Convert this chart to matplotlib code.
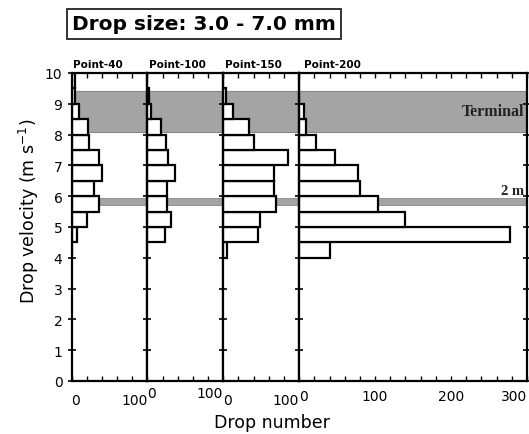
import matplotlib
matplotlib.use("Agg")
import matplotlib.pyplot as plt

# drop counts per 0.5 m/s velocity class, one list per sampling point
velocity_bins = [4.25, 4.75, 5.25, 5.75, 6.25, 6.75, 7.25, 7.75, 8.25, 8.75, 9.25, 9.75]
point_names = ["Point-40", "Point-100", "Point-150", "Point-200"]
counts_p40 = [0, 7, 21, 36, 30, 40, 36, 23, 22, 10, 5, 4]
counts_p100 = [0, 23, 31, 26, 26, 36, 27, 25, 18, 5, 2, 0]
counts_p150 = [5, 46, 49, 69, 67, 67, 85, 40, 34, 13, 4, 0]
counts_p200 = [40, 278, 140, 104, 80, 78, 47, 22, 9, 6, 0, 0]
all_counts = [counts_p40, counts_p100, counts_p150, counts_p200]

count_max = [100, 100, 100, 300]
count_ticks = [[0, 100], [0, 100], [0, 100], [0, 100, 200, 300]]
velocity_ticks = list(range(0, 11))

terminal_band = (8.1, 9.4)
height_band = (5.73, 5.95)

W, H = 529, 435
fig = plt.figure(figsize=(W / 100, H / 100), dpi=100)

left0 = 71.5
unit_w = 75.9
top_px, bottom_px = 74, 382
widths = [unit_w, unit_w, unit_w, 3 * unit_w]
label_pad = [8.5, 3.5, 8.5, 5.5]

x = left0
axes = []
for i, counts in enumerate(all_counts):
    w = widths[i]
    ax = fig.add_axes([x / W, 1 - bottom_px / H, w / W, (bottom_px - top_px) / H])
    x += w
    axes.append(ax)

    ax.axhspan(*terminal_band, facecolor="#a4a4a4", edgecolor="#888888", lw=0.8, zorder=1)
    ax.axhspan(*height_band, facecolor="#a4a4a4", edgecolor="#888888", lw=0.6, zorder=1)

    ax.barh(velocity_bins, counts, height=0.5, color="white",
            edgecolor="black", linewidth=1.6, zorder=3)

    ax.set_xlim(0, count_max[i])
    ax.set_ylim(0, 10)

    ax.set_xticks(count_ticks[i])
    ax.set_xticklabels([str(t) for t in count_ticks[i]])
    ax.set_xticks(range(0, count_max[i] + 1, 20), minor=True)
    ax.tick_params(axis="x", which="both", direction="in", top=True,
                   length=3.5, width=1.0, labelsize=10, pad=label_pad[i])

    labels = ax.get_xticklabels()
    labels[0].set_ha("left")
    labels[-1].set_ha("right")

    ax.set_yticks(velocity_ticks)
    ax.tick_params(axis="y", direction="inout", length=6, width=1.2,
                   labelsize=10, labelleft=(i == 0), right=(i == 3))

    for sp in ax.spines.values():
        sp.set_linewidth(1.6)
        sp.set_zorder(4)

    ax.text(0.02, 1.012, point_names[i], transform=ax.transAxes,
            fontsize=7.5, fontweight="bold", ha="left", va="bottom")

# band labels on the widest panel
ax4 = axes[3]
ax4.text(296, 8.78, "Terminal", fontsize=11.5, fontweight="bold",
         family="Liberation Serif", color="#222222", ha="right", va="center",
         zorder=2)
ax4.text(297, 5.99, "2 m", fontsize=10.5, fontweight="bold",
         family="Liberation Serif", color="#222222", ha="right", va="bottom",
         zorder=2)

fig.text(204 / W, 1 - 25 / H, "Drop size: 3.0 - 7.0 mm", fontsize=14.5,
         fontweight="bold", ha="center", va="center",
         bbox=dict(boxstyle="square,pad=0.25", facecolor="white",
                   edgecolor="#333333", linewidth=1.4))

fig.text(29 / W, 1 - 211 / H, r"Drop velocity (m s$^{-1}$)", fontsize=12.5,
         rotation=90, ha="center", va="center")
fig.text(272 / W, 1 - 423 / H, "Drop number", fontsize=12.5,
         ha="center", va="center")

fig.savefig("out.png", dpi=100)
